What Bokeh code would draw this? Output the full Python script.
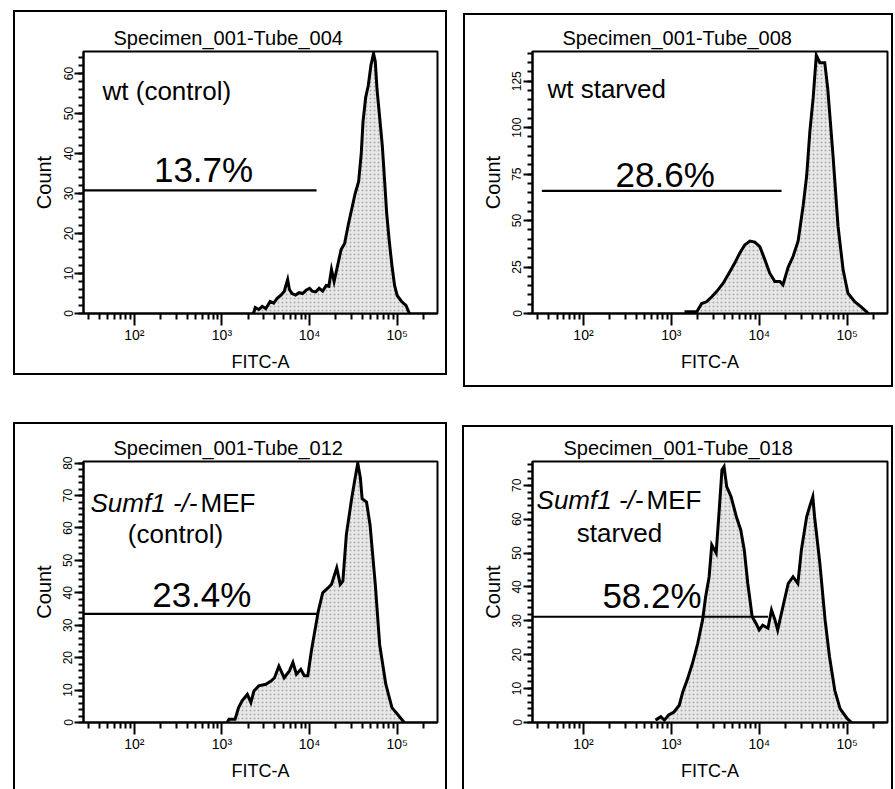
import numpy as np
from bokeh.plotting import figure
from bokeh.layouts import column, row
from bokeh.models import FixedTicker, SingleIntervalTicker, Range1d
from bokeh.core.properties import value
from bokeh.embed import file_html
from bokeh.resources import INLINE

FONT = "Liberation Sans"

# ---- histogram data: log10(FITC-A) bin positions and event counts ----
wt_ctrl_log = [3.36, 3.38, 3.42, 3.46, 3.50, 3.55, 3.59, 3.63, 3.67, 3.71, 3.75, 3.77,
               3.80, 3.84, 3.88, 3.92, 3.96, 4.00, 4.03, 4.07, 4.11, 4.15, 4.19, 4.22,
               4.25, 4.28, 4.32, 4.36, 4.40, 4.44, 4.48, 4.52, 4.56, 4.59, 4.61, 4.64,
               4.67, 4.70, 4.73, 4.75, 4.77, 4.80, 4.83, 4.86, 4.88, 4.91, 4.94, 4.97,
               5.00, 5.05, 5.10, 5.14]
wt_ctrl_count = [0, 1.5, 1.0, 1.8, 1.2, 3.0, 2.6, 3.8, 4.5, 5.5, 8.5, 6.0,
                 5.0, 4.6, 5.2, 5.0, 5.8, 6.3, 5.6, 5.4, 6.3, 5.6, 7.0, 6.8,
                 11.0, 8.0, 12, 16, 17.5, 22, 26, 30, 33, 40, 48, 54,
                 57, 62, 65, 63, 56, 49, 42, 32, 25, 18, 12, 7,
                 4.5, 3.0, 2.0, 0]

wt_starv_log = [3.15, 3.29, 3.345, 3.40, 3.46, 3.515, 3.59, 3.667, 3.72, 3.78, 3.837,
                3.894, 3.95, 4.007, 4.064, 4.12, 4.178, 4.235, 4.27, 4.33, 4.386, 4.443,
                4.50, 4.54, 4.576, 4.614, 4.65, 4.69, 4.746, 4.78, 4.84, 4.897, 4.955,
                5.01, 5.087, 5.16, 5.22, 5.24]
wt_starv_count = [1, 1, 5.4, 6.3, 9, 11.8, 16.3, 22.6, 27, 32.6, 37,
                  39, 38.4, 36, 29, 21.7, 17.2, 17.2, 15.4, 25, 30.8, 39,
                  58, 74, 97.8, 116, 139, 135, 135, 121, 85, 47, 23.5,
                  10.9, 6.3, 3.6, 1, 0]

ko_ctrl_log = [3.06, 3.08, 3.15, 3.19, 3.23, 3.29, 3.33, 3.365, 3.42, 3.50, 3.56, 3.60,
               3.65, 3.71, 3.77, 3.81, 3.85, 3.90, 3.94, 3.98, 4.02, 4.06, 4.10, 4.15,
               4.21, 4.25, 4.31, 4.35, 4.38, 4.42, 4.48, 4.52, 4.55, 4.58, 4.60, 4.65,
               4.69, 4.75, 4.80, 4.87, 4.94, 5.02, 5.08]
ko_ctrl_count = [0, 1, 1, 4.6, 6.7, 8.7, 6.2, 9.7, 11.3, 11.8, 12.8, 13.8,
                 17.4, 13.8, 15.9, 18.5, 14.9, 16.4, 14.4, 14.4, 22, 28.2, 34.4, 40,
                 41.5, 42.6, 47.7, 42.6, 43.6, 58, 69, 75.4, 80, 75.4, 69, 68,
                 61, 42.6, 24, 11.8, 4.6, 2, 0]

ko_starv_log = [2.82, 2.88, 2.92, 2.97, 3.03, 3.09, 3.13, 3.18, 3.24, 3.30, 3.355, 3.39,
                3.43, 3.46, 3.51, 3.545, 3.576, 3.60, 3.63, 3.68, 3.74, 3.79, 3.83, 3.87,
                3.92, 3.965, 4.00, 4.04, 4.10, 4.14, 4.18, 4.21, 4.27, 4.33, 4.385, 4.44,
                4.48, 4.54, 4.58, 4.61, 4.63, 4.69, 4.75, 4.80, 4.86, 4.92, 5.00, 5.05]
ko_starv_count = [0.7, 1.7, 0.7, 2.2, 3.1, 5.1, 9, 12.5, 17.4, 23.3, 30.2, 37,
                  43, 52.4, 50, 62.7, 74.5, 75.5, 69.6, 66.6, 60.7, 56.8, 50.9, 41,
                  31.2, 29.2, 27.3, 28.7, 27.8, 33.2, 30.2, 27.3, 34.2, 41, 43, 41,
                  50.9, 60.7, 64.2, 66.6, 60.7, 47, 30.2, 19.4, 9.5, 4.1, 1.2, 0]

# ---- gate markers (log10 start, log10 end, count level) and statistics ----
gate_start_log = [1.42, 1.527, 1.42, 1.42]
gate_end_log = [4.08, 4.254, 4.096, 4.10]
gate_level = [30.8, 66, 33.5, 31.2]
gate_percent = ["13.7%", "28.6%", "23.4%", "58.2%"]

tube_titles = ["Specimen_001-Tube_004", "Specimen_001-Tube_008",
               "Specimen_001-Tube_012", "Specimen_001-Tube_018"]
y_top = [65.5, 141, 80.5, 77]
y_major_step = [10, 25, 10, 10]

x_major = [1e2, 1e3, 1e4, 1e5]
x_labels = {100: "10²", 1000: "10³", 10000: "10⁴", 100000: "10⁵"}
x_minor = [m * 10 ** d for d in range(1, 5) for m in range(2, 10) if m * 10 ** d > 26] + [2e5]

X_LO, X_HI = 10 ** 1.42, 10 ** 5.46

# ---- panel geometry: canvas size, frame borders (top, right, bottom, left),
#      and the surrounding box (left, top, right, bottom) in canvas pixels ----
layouts = [
    dict(w=455, h=400, b=(51, 18, 87, 83), box=(13, 10, 447, 375), toff=30),
    dict(w=440, h=400, b=(51, 8, 87, 77), box=(8, 13, 438, 387), toff=30),
    dict(w=455, h=389, b=(61, 18, 67, 83), box=(13, 22, 447, None), toff=30),
    dict(w=440, h=389, b=(61, 8, 67, 77), box=(7, 25, 438, None), toff=31),
]

series = [(wt_ctrl_log, wt_ctrl_count), (wt_starv_log, wt_starv_count),
          (ko_ctrl_log, ko_ctrl_count), (ko_starv_log, ko_starv_count)]

# sample-name labels: (log10 x, count y, text, italic, align, pixel x offset)
name_labels = [
    [(1.637, 55.75, "wt (control)", False, "left", 0)],
    [(1.59, 121, "wt starved", False, "left", 0)],
    [(1.50, 67.7, "Sumf1 -/-", True, "left", 0), (1.50, 67.7, "MEF", False, "left", 110),
     (2.47, 58.2, "(control)", False, "center", 0)],
    [(1.466, 65.6, "Sumf1 -/-", True, "left", 0), (1.466, 65.6, "MEF", False, "left", 110),
     (2.41, 55.8, "starved", False, "center", 0)],
]
pct_pos = [(2.79, 36), (2.93, 75), (2.77, 39.5), (2.78, 37.6)]


def box_background(box, h, lw=2):
    """CSS background layers that paint a rectangular panel border."""
    l, t, r, b = box
    bottom = b if b is not None else h + 10
    rects = [(l, t, r - l, lw), (l, t, lw, bottom - t), (r - lw, t, lw, bottom - t)]
    if b is not None:
        rects.append((l, b - lw, r - l, lw))
    return ", ".join(
        f"linear-gradient(#000, #000) {x}px {y}px / {w}px {hh}px no-repeat"
        for (x, y, w, hh) in rects)


def make_panel(i):
    L = layouts[i]
    top, right, bottom, left = L["b"]
    p = figure(width=L["w"], height=L["h"], x_axis_type="log",
               x_range=Range1d(X_LO, X_HI), y_range=Range1d(0, y_top[i]),
               output_backend="svg", toolbar_location=None,
               min_border_top=top, min_border_right=right,
               min_border_bottom=bottom, min_border_left=left,
               styles={"background": box_background(L["box"], L["h"])})
    p.grid.visible = False
    # transparent canvas so the panel border painted behind it shows through
    p.background_fill_color = None
    p.border_fill_color = None
    p.outline_line_color = "black"
    p.outline_line_width = 2

    p.title.text = tube_titles[i]
    p.title.align = "left"
    p.title.offset = L["toff"]
    p.title.text_font = FONT
    p.title.text_font_size = "20px"
    p.title.text_font_style = "normal"
    p.title.text_color = "black"
    p.title.standoff = 6

    xa = p.xaxis[0]
    xa.ticker = FixedTicker(ticks=x_major, minor_ticks=x_minor)
    xa.major_label_overrides = x_labels
    xa.axis_label = "FITC-A"
    xa.axis_label_text_font = FONT
    xa.axis_label_text_font_size = "18px"
    xa.axis_label_text_font_style = "normal"
    xa.axis_label_text_color = "black"
    xa.axis_label_standoff = 6
    xa.major_label_text_font = FONT
    xa.major_label_text_font_size = "14px"
    xa.major_label_text_color = "black"
    xa.major_label_standoff = 1
    xa.major_tick_out = 12
    xa.major_tick_in = 0
    xa.minor_tick_out = 6
    xa.minor_tick_in = 0
    xa.major_tick_line_width = 2
    xa.minor_tick_line_width = 2
    xa.major_tick_line_color = "black"
    xa.minor_tick_line_color = "black"
    xa.axis_line_width = 2
    xa.axis_line_color = "black"

    ya = p.yaxis[0]
    ya.ticker = SingleIntervalTicker(interval=y_major_step[i], num_minor_ticks=5)
    ya.axis_label = "Count"
    ya.axis_label_text_font = FONT
    ya.axis_label_text_font_size = "20px"
    ya.axis_label_text_font_style = "normal"
    ya.axis_label_text_color = "black"
    ya.axis_label_standoff = 6
    ya.major_label_text_font = FONT
    ya.major_label_text_font_size = "12px"
    ya.major_label_text_color = "black"
    ya.major_label_orientation = "vertical"
    ya.major_label_standoff = 2
    ya.major_tick_out = 9
    ya.major_tick_in = 0
    ya.minor_tick_out = 5
    ya.minor_tick_in = 0
    ya.major_tick_line_width = 2
    ya.minor_tick_line_width = 2
    ya.major_tick_line_color = "black"
    ya.minor_tick_line_color = "black"
    ya.axis_line_width = 2
    ya.axis_line_color = "black"

    lg, cnt = series[i]
    xs = 10 ** np.array(lg)
    ys = np.array(cnt, dtype=float)
    p.varea(x=xs, y1=np.zeros_like(ys), y2=ys, fill_color="#e8e8e8",
            hatch_pattern="dot", hatch_color="#7a7a7a", hatch_scale=4, hatch_alpha=0.55)
    p.line(xs, ys, line_color="black", line_width=3, line_join="miter")

    # gate marker and its statistic
    p.line([10 ** gate_start_log[i], 10 ** gate_end_log[i]], [gate_level[i], gate_level[i]],
           line_color="black", line_width=2.2)
    px, py = pct_pos[i]
    p.text(x=[10 ** px], y=[py], text=[gate_percent[i]], text_font=value(FONT),
           text_font_size="35px", text_align="center", text_baseline="middle",
           text_color="black")

    for (lx, ly, txt, italic, align, xoff) in name_labels[i]:
        p.text(x=[10 ** lx], y=[ly], text=[txt], text_font=value(FONT),
               text_font_size="26px", text_align=align, text_baseline="middle",
               text_font_style="italic" if italic else "normal", x_offset=xoff,
               text_color="black")
    return p


panels = [make_panel(i) for i in range(4)]
layout = column(row(panels[0], panels[1]), row(panels[2], panels[3]))

open("out.html", "w").write(file_html(layout, INLINE))
